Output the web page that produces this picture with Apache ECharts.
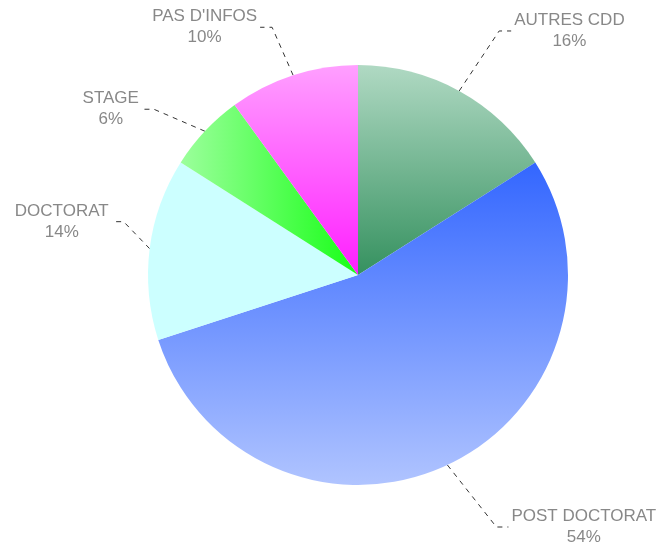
<!DOCTYPE html>
<html>
<head>
<meta charset="utf-8">
<style>html,body{margin:0;padding:0;background:#fff;}#c{width:662px;height:544px;}</style>
<script src="https://cdn.jsdelivr.net/npm/echarts@6/dist/echarts.min.js"></script>
</head>
<body>
<div id="c"></div>
<script>
const categories = ["AUTRES CDD", "POST DOCTORAT", "DOCTORAT", "STAGE", "PAS D'INFOS"];
const values = [16, 54, 14, 6, 10];

// leader line bend offsets from slice edge (styling only)
const leaderBend = [[40, -60], [49, 62], [-26, -27], [-51, -22], [-21, -48]];

const grad = (x, y, x2, y2, c1, c2) => new echarts.graphic.LinearGradient(x, y, x2, y2, [
  { offset: 0, color: c1 }, { offset: 1, color: c2 }
]);
const fills = [
  grad(0, 0, 0, 1, '#b0d9c3', '#35915f'),
  grad(0, 0, 0, 1, '#3366ff', '#b0c4ff'),
  '#ccffff',
  grad(0, 0, 1, 0, '#9cff9c', '#18ff18'),
  grad(0, 0, 0, 1, '#ffa0ff', '#ff1eff')
];

const chart = echarts.init(document.getElementById('c'));
chart.setOption({
  animation: false,
  series: [{
    type: 'pie',
    center: [358, 275],
    radius: 210,
    startAngle: 90,
    clockwise: true,
    avoidLabelOverlap: false,
    data: categories.map((n, i) => ({ name: n, value: values[i], itemStyle: { color: fills[i] } })),
    itemStyle: { borderWidth: 0 },
    label: {
      show: true,
      position: 'outside',
      formatter: '{a|{b}}\n{a|{d}%}',
      color: '#888',
      fontFamily: 'Liberation Sans, Arial, sans-serif',
      fontSize: 17,
      lineHeight: 21,
      rich: { a: { align: 'center', color: '#888', fontSize: 17, lineHeight: 21, fontFamily: 'Liberation Sans, Arial, sans-serif' } }
    },
    labelLine: {
      show: true,
      length: 40,
      length2: 8,
      lineStyle: { color: '#333', width: 1, type: [5, 5] }
    },
    labelLayout: function (params) {
      const i = params.dataIndex;
      const p0 = params.labelLinePoints[0];
      const b = leaderBend[i];
      const side = b[0] > 0 ? 1 : -1;
      const p1 = [p0[0] + b[0], p0[1] + b[1]];
      const p2 = [p1[0] + side * 12, p1[1]];
      return {
        x: p2[0] + side * 3,
        y: p2[1],
        align: side > 0 ? 'left' : 'right',
        verticalAlign: 'middle',
        labelLinePoints: [p0, p1, p2]
      };
    },
    emphasis: { disabled: true }
  }]
});
</script>
</body>
</html>
